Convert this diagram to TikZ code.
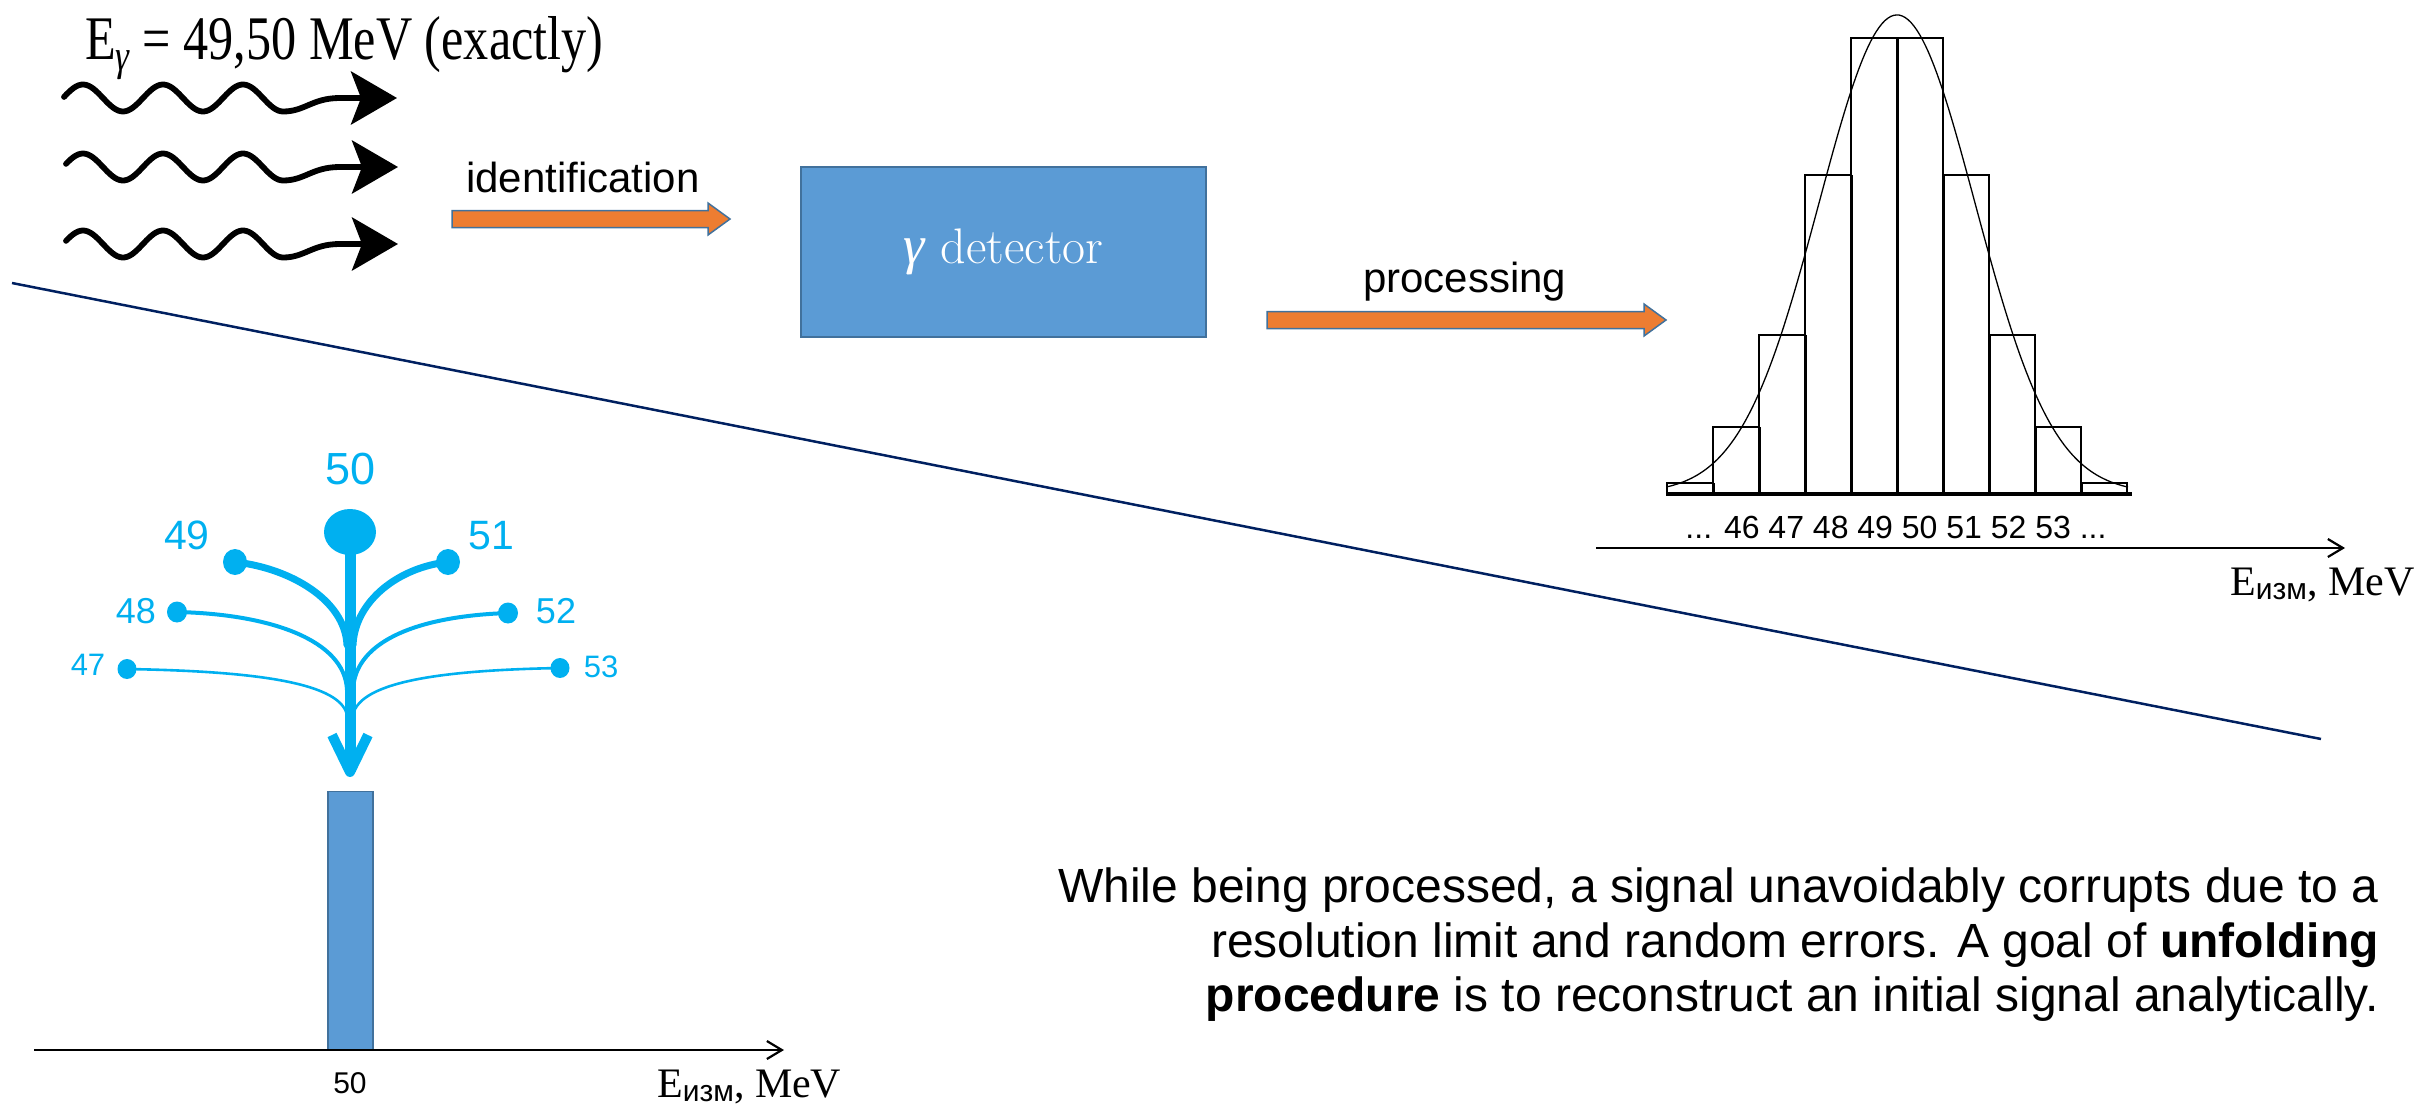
\documentclass[tikz,border=0pt]{standalone}
\usepackage{fontspec}
\newfontfamily\sansf{Liberation Sans}
\newfontfamily\serf{Liberation Serif}
\newfontfamily\titlef[FakeStretch=0.81]{Liberation Serif}
\usetikzlibrary{arrows.meta,shapes.geometric}
\definecolor{cyanb}{HTML}{00B0F0}
\definecolor{boxblue}{HTML}{5B9BD5}
\definecolor{edgeblue}{HTML}{41719C}
\definecolor{arrorange}{HTML}{ED7D31}
\definecolor{navyl}{HTML}{002060}
\begin{document}
\begin{tikzpicture}[x=1pt,y=-1pt,
  wave/.style={line width=5.8pt, line cap=round, black},
  wavetip/.style={-{Stealth[length=46pt,width=53pt,inset=10pt]}},
  oarrow/.style={fill=arrorange, draw=edgeblue, line width=1.5pt, line join=miter},
  lbl/.style={inner sep=0pt},
  hbar/.style={draw=black, line width=1.7pt},
  sep/.style={draw=black, line width=3pt},
  axisl/.style={line width=2.5pt, -{Straight Barb[length=15pt,width=18pt,line width=2.2pt]}},
  dot/.style={ellipse, fill=cyanb, inner sep=0pt},
  br/.style={cyanb, line cap=round}]
\useasboundingbox (0,0) rectangle (2425,1106);

% title
\node[lbl, anchor=base west] (title) at (85,59)
  {\titlef\fontsize{62}{70}\selectfont E\textsubscript{\itshape γ} = 49,50 MeV (exactly)};

% wavy photons
\foreach \yc/\xs/\xt [count=\k] in {98/64/397, 167/66/398, 244/66/398} {
  \coordinate (w\k s) at (\xs,\yc);
  \coordinate (w\k t) at (\xt,\yc);
  \draw[wave] plot[domain=\xs:283, samples=90] (\x, {\yc-13.5*cos(4.5*(\x-83))})
     .. controls (305,{\yc+13.5}) and (312,\yc) .. (340,\yc);
  \draw[wave, wavetip] (338,\yc) -- (w\k t);
}

% identification arrow
\node[lbl, anchor=base west, font=\sansf\fontsize{42}{48}\selectfont] (ident) at (466,192) {identification};
\draw[oarrow] (452,210.5) -- (708,210.5) -- (708,203) -- (730,219) -- (708,235) -- (708,227.5) -- (452,227.5) -- cycle;

% detector
\node[draw=edgeblue, fill=boxblue, line width=1.5pt, minimum width=405pt, minimum height=170pt,
      inner sep=0pt, text=white, font=\fontsize{50}{54}\selectfont] (det) at (1003.5,252)
  {\raisebox{-3pt}{{\serf\itshape\fontsize{54}{54}\selectfont γ}\hspace{16pt}detector}};

% processing arrow
\node[lbl, anchor=base west, font=\sansf\fontsize{42}{48}\selectfont] (proc) at (1363,292) {processing};
\draw[oarrow] (1267,311.5) -- (1644,311.5) -- (1644,304) -- (1666,320) -- (1644,336) -- (1644,328.5) -- (1267,328.5) -- cycle;

% diagonal divider
\coordinate (dA) at (12,283);
\coordinate (dB) at (2321,739);
\draw[navyl, line width=2.5pt] (dA) -- (dB);

% histogram
\foreach \i/\t in {0/483,1/427,2/335,3/175,4/38,5/38,6/175,7/335,8/427,9/483}
  \draw[hbar] ({1667+46*\i},493) rectangle ({1713+46*\i},\t);
\foreach \i/\t in {1/483,2/427,3/335,4/175,5/38,6/175,7/335,8/427,9/483}
  \draw[sep] ({1667+46*\i},493) -- ({1667+46*\i},\t);
\draw[black, line width=4pt] (1666,494) -- (2132,494);
\draw[black, line width=1.3pt] plot[domain=1668:2128, samples=160]
  (\x, {493-478*exp(-0.5*((\x-1897)/78)^2)});
\coordinate (hA) at (1596,548);
\coordinate (hB) at (2345,548);
\draw[axisl] (hA) -- (hB);
\node[lbl, anchor=base, font=\sansf\fontsize{32}{36}\selectfont] (ticks) at (1896,538)
  {... 46 47 48 49 50 51 52 53 ...};
\node[lbl, anchor=base west] (eax1) at (2230,595)
  {\serf\fontsize{42}{48}\selectfont E{\sansf\fontsize{30}{30}\selectfont\raisebox{-4pt}{изм}}, MeV};

% fountain
\node[dot, minimum width=52pt, minimum height=46pt] (d50) at (350,532) {};
\node[dot, minimum width=24pt, minimum height=26pt] (d49) at (235,562) {};
\node[dot, minimum width=24pt, minimum height=26pt] (d51) at (448,562) {};
\node[dot, minimum width=20pt, minimum height=21pt] (d48) at (177,612) {};
\node[dot, minimum width=20pt, minimum height=21pt] (d52) at (508,613) {};
\node[dot, minimum width=19pt, minimum height=20pt] (d47) at (127,669) {};
\node[dot, minimum width=19pt, minimum height=20pt] (d53) at (560,668) {};
\coordinate (tip) at (350,772);
\draw[cyanb, line width=11pt] (d50.center) -- (tip);
\draw[cyanb, line width=10pt, line join=round] (332,735) -- (tip) -- (368,735);
\draw[br, line width=7pt] (d49.center) .. controls (290,568) and (345,600) .. (347,645);
\draw[br, line width=7pt] (d51.center) .. controls (400,567) and (355,600) .. (353,645);
\draw[br, line width=4pt] (d48.center) .. controls (270,614) and (345,640) .. (347,690);
\draw[br, line width=4pt] (d52.center) .. controls (420,616) and (355,640) .. (353,690);
\draw[br, line width=2.6pt] (d47.center) .. controls (240,671) and (340,680) .. (347,715);
\draw[br, line width=2.6pt] (d53.center) .. controls (450,670) and (360,680) .. (353,715);
\node[lbl, anchor=base, text=cyanb, font=\sansf\fontsize{45}{50}\selectfont] (l50) at (351,484) {50};
\node[lbl, anchor=base, text=cyanb, font=\sansf\fontsize{41}{46}\selectfont] (l49) at (187,549) {49};
\node[lbl, anchor=base, text=cyanb, font=\sansf\fontsize{41}{46}\selectfont] (l51) at (491,549) {51};
\node[lbl, anchor=base, text=cyanb, font=\sansf\fontsize{36}{40}\selectfont] (l48) at (136,623) {48};
\node[lbl, anchor=base, text=cyanb, font=\sansf\fontsize{36}{40}\selectfont] (l52) at (556,623) {52};
\node[lbl, anchor=base, text=cyanb, font=\sansf\fontsize{31}{36}\selectfont] (l47) at (88,675) {47};
\node[lbl, anchor=base, text=cyanb, font=\sansf\fontsize{31}{36}\selectfont] (l53) at (601,677) {53};

% bottom-left spectrum
\node[draw=edgeblue, fill=boxblue, line width=1.5pt, minimum width=45pt, minimum height=258pt,
      inner sep=0pt, anchor=south] (peak) at (350.5,1050) {};
\coordinate (bA) at (34,1050);
\coordinate (bB) at (784,1050);
\draw[axisl] (bA) -- (bB);
\node[lbl, anchor=base, font=\sansf\fontsize{30}{36}\selectfont] (l50b) at (350,1093) {50};
\node[lbl, anchor=base west] (eax2) at (657,1097)
  {\serf\fontsize{42}{48}\selectfont E{\sansf\fontsize{30}{30}\selectfont\raisebox{-4pt}{изм}}, MeV};

% explanatory text
\node[lbl, anchor=base east, font=\sansf\fontsize{48}{54}\selectfont] (t1) at (2379,902)
  {While being processed, a signal unavoidably corrupts due to a};
\node[lbl, anchor=base east, font=\sansf\fontsize{48}{54}\selectfont] (t2) at (2379,957)
  {resolution limit and random errors. A goal of \textbf{unfolding}};
\node[lbl, anchor=base east, font=\sansf\fontsize{48}{54}\selectfont] (t3) at (2379,1011)
  {\textbf{procedure} is to reconstruct an initial signal analytically.};
\end{tikzpicture}
\end{document}
